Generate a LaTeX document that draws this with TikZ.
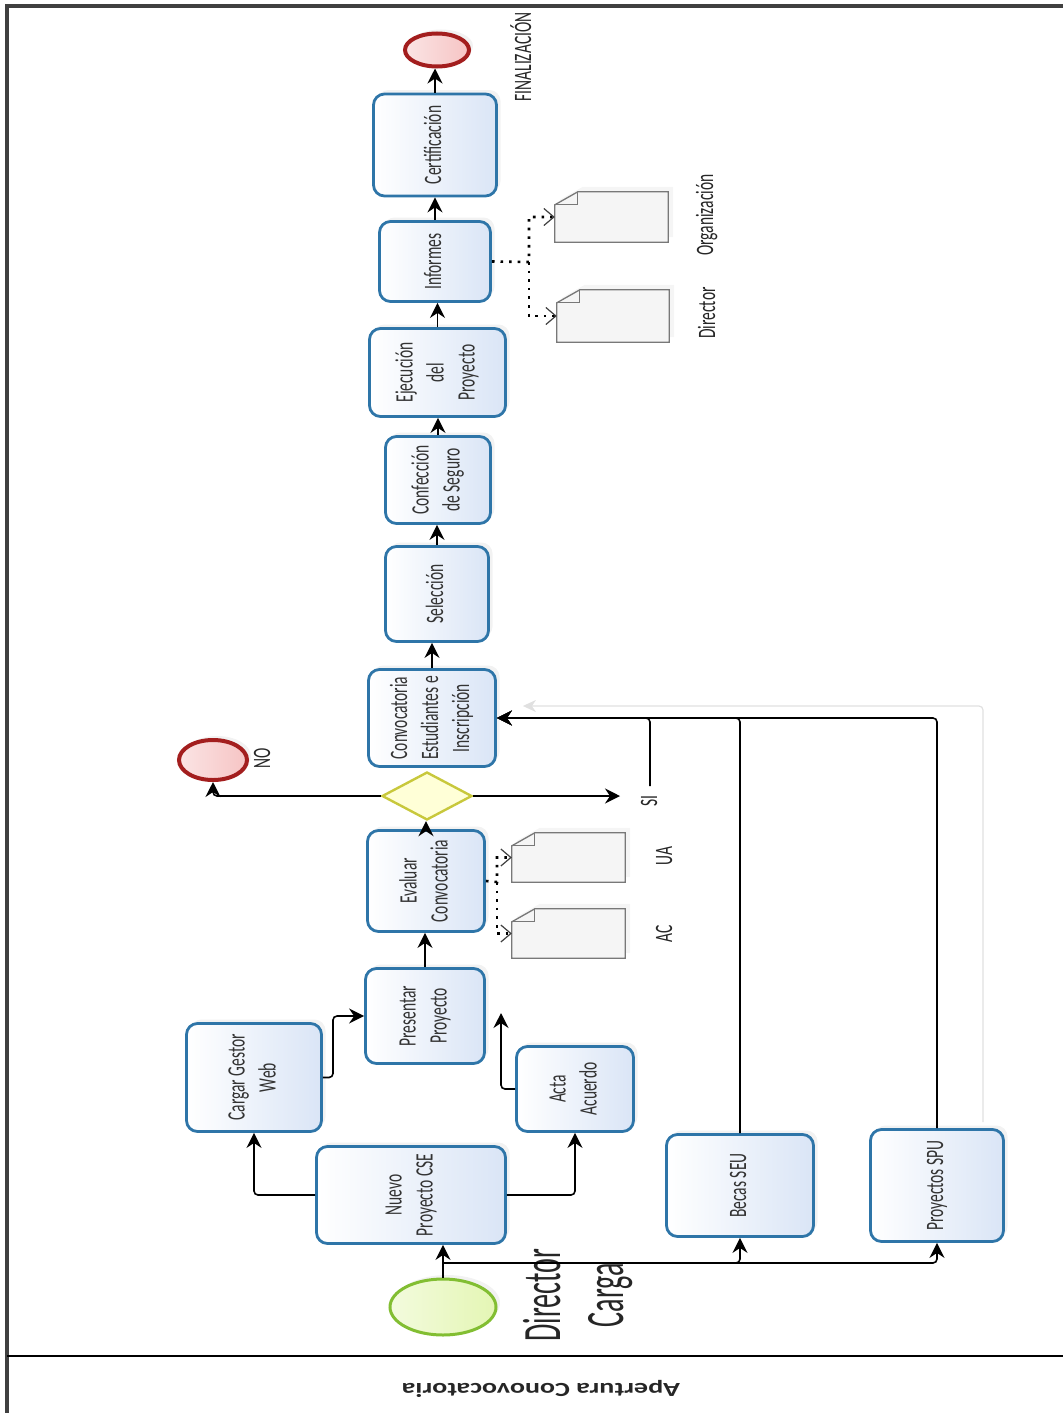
\documentclass[tikz,border=0pt]{standalone}
\usepackage{fontspec}
\setmainfont{Carlito}
\newfontfamily\tfont[FakeStretch=0.62]{Carlito}
\newfontfamily\bigfont[FakeStretch=0.52]{Carlito}
\newfontfamily\titlefont[FakeStretch=1.4]{Carlito}
\usetikzlibrary{arrows.meta,shapes.geometric,shadows,calc}
\newcommand{\rotlbl}[1]{\rotatebox{90}{\begin{tabular}{@{}c@{}}#1\end{tabular}}}
\definecolor{taskborder}{RGB}{46,117,168}
\definecolor{taskfill}{RGB}{218,229,246}
\definecolor{endborder}{RGB}{163,30,30}
\definecolor{endfill}{RGB}{246,196,196}
\definecolor{startborder}{RGB}{130,190,50}
\definecolor{startfill}{RGB}{228,246,180}
\definecolor{gwborder}{RGB}{200,200,60}
\definecolor{gwfill}{RGB}{255,255,215}
\definecolor{docborder}{RGB}{120,120,120}
\tikzset{
  task/.style={rectangle, rounded corners=11pt, draw=taskborder, line width=2.8pt,
    left color=white, right color=taskfill, inner sep=0pt,
    font=\tfont\fontsize{25}{31}\selectfont, text=black!80,
    drop shadow={shadow xshift=4pt, shadow yshift=4pt, fill=black!10}},
  endev/.style={ellipse, draw=endborder, line width=4pt, inner sep=0pt,
    left color=endfill!45!white, right color=endfill,
    drop shadow={shadow xshift=4pt, shadow yshift=4pt, fill=black!10}},
  startev/.style={ellipse, draw=startborder, line width=3pt, inner sep=0pt,
    left color=startfill!45!white, right color=startfill,
    drop shadow={shadow xshift=4pt, shadow yshift=4pt, fill=black!10}},
  gateway/.style={diamond, draw=gwborder, line width=2.4pt, fill=gwfill, inner sep=0pt},
  doc/.style={rectangle, inner sep=0pt, draw=none},
  docline/.style={draw=docborder, line width=1.3pt, fill=black!4,
    drop shadow={shadow xshift=5pt, shadow yshift=5pt, fill=black!8}},
  foldline/.style={draw=docborder, line width=1.1pt},
  lbl/.style={font=\tfont\fontsize{25}{31}\selectfont, inner sep=0pt, text=black!85},
  flow/.style={line width=1.6pt, draw=black, rounded corners=4pt,
    -{Stealth[length=15pt,width=15pt,inset=5pt]}},
  ghost/.style={line width=1.2pt, draw=black!12, rounded corners=4pt,
    -{Stealth[length=13pt,width=12pt,inset=4pt]}},
  assoc/.style={line width=2.6pt, dash pattern=on 2.6pt off 6pt,
    -{Straight Barb[length=10pt,width=17pt,line width=1.2pt,black!75]}},
}
\newcommand{\docshape}[1]{%
  \filldraw[docline] ([xshift=23pt]#1.north west) -- (#1.north east) -- (#1.south east)
    -- (#1.south west) -- ([yshift=-13pt]#1.north west) -- cycle;
  \draw[foldline] ([xshift=23pt]#1.north west) -- ([xshift=23pt,yshift=-13pt]#1.north west)
    -- ([yshift=-13pt]#1.north west);}
\begin{document}
\begin{tikzpicture}[x=1pt,y=-1pt]
\useasboundingbox (0,0) rectangle (1063,1413);
% frame
\draw[line width=3.5pt, black!75] (7,1413) -- (7,6) -- (1063,6);
\draw[line width=2pt, black] (7,1356) -- (1063,1356);
\node[font=\titlefont\bfseries\fontsize{20}{24}\selectfont, rotate=180, text=black!85] (title) at (541,1389) {Apertura Conovocatoria};

% events
\node[endev, minimum width=64pt, minimum height=33pt] (fin) at (437,50) {};
\node[endev, minimum width=68pt, minimum height=40pt] (noend) at (213,760) {};
\node[startev, minimum width=106pt, minimum height=56pt] (start) at (443,1307) {};
\node[gateway, minimum width=90pt, minimum height=48pt] (gw) at (427,796) {};

% tasks
\node[task, minimum width=123pt, minimum height=102pt] (cert) at (435,145) {\rotlbl{Certificación}};
\node[task, minimum width=111pt, minimum height=80pt] (inf) at (435,261.5) {\rotlbl{Informes}};
\node[task, minimum width=136pt, minimum height=88pt] (ejec) at (437.5,372.5) {\rotlbl{Ejecución\\del\\Proyecto}};
\node[task, minimum width=105pt, minimum height=87pt] (conf) at (438,480) {\rotlbl{Confección\\de Seguro}};
\node[task, minimum width=103pt, minimum height=95pt] (sel) at (437,594) {\rotlbl{Selección}};
\node[task, minimum width=127pt, minimum height=97pt] (conv) at (432,718) {\rotlbl{Convocatoria\\Estudiantes e\\Inscripción}};
\node[task, minimum width=117pt, minimum height=101pt] (eval) at (426,881) {\rotlbl{Evaluar\\Convocatoria}};
\node[task, minimum width=119pt, minimum height=95pt] (pres) at (425,1016) {\rotlbl{Presentar\\Proyecto}};
\node[task, minimum width=135pt, minimum height=108pt] (carg) at (254,1077.5) {\rotlbl{Cargar Gestor\\Web}};
\node[task, minimum width=117pt, minimum height=85pt] (acta) at (575,1089) {\rotlbl{Acta\\Acuerdo}};
\node[task, minimum width=189pt, minimum height=97pt] (nuevo) at (411,1195) {\rotlbl{Nuevo\\Proyecto CSE}};
\node[task, minimum width=147pt, minimum height=102pt] (becas) at (740,1185.5) {\rotlbl{Becas SEU}};
\node[task, minimum width=133pt, minimum height=112pt] (spu) at (937,1185.5) {\rotlbl{Proyectos SPU}};

% data objects
\node[doc, minimum width=113pt, minimum height=50pt] (orgdoc) at (611.5,217) {};
\node[doc, minimum width=112pt, minimum height=52pt] (dirdoc) at (613,316) {};
\node[doc, minimum width=113pt, minimum height=49pt] (uadoc) at (568.5,857.5) {};
\node[doc, minimum width=113pt, minimum height=49pt] (acdoc) at (568.5,933.5) {};
\docshape{orgdoc}
\docshape{dirdoc}
\docshape{uadoc}
\docshape{acdoc}

% labels
\node[lbl] (finlbl) at (525,57) {\rotlbl{FINALIZACIÓN}};
\node[lbl] (nolbl) at (264,758) {\rotlbl{NO}};
\node[lbl] (si) at (651,801) {\rotlbl{SI}};
\node[lbl] (ualbl) at (666,856) {\rotlbl{UA}};
\node[lbl] (aclbl) at (666,934) {\rotlbl{AC}};
\node[lbl] (orglbl) at (707,215) {\rotlbl{Organización}};
\node[lbl] (dirlbl) at (709,313) {\rotlbl{Director}};
\node[font=\bigfont\fontsize{54}{63}\selectfont, inner sep=0pt, text=black!85] (dc) at (579,1295) {\rotlbl{Director\\Carga}};

% coordinates
\coordinate (sj) at (443,1263);
\coordinate (cp) at (333,1077.5);
\coordinate (ap) at (501,1013);
\coordinate (siend) at (620,796);
\coordinate (sitop) at (650,786);
\coordinate (ij) at (529,262);
\coordinate (ej) at (497,882);
\coordinate (gh) at (983,1122);

% ghost line
\draw[ghost] (gh) |- ([xshift=26pt,yshift=12pt]conv.east);

% flows
\draw[flow] (start.north) -- (start.north |- nuevo.south);
\draw[flow] (sj) -| (becas.south);
\draw[flow] (sj) -| (spu.south);
\draw[flow] (nuevo.west) -| (carg.south);
\draw[flow] (nuevo.east) -| (acta.south);
\draw[flow] (carg.east) -- (cp) |- (pres.west);
\draw[flow] (acta.west) -| (ap);
\draw[flow] (pres.north) -- (pres.north |- eval.south);
\draw[flow] (eval.north) -- (eval.north |- gw.south);
\draw[flow] (gw.west) -| (noend.south);
\draw[flow] (gw.east) -- (siend);
\draw[flow] (becas.north) |- (conv.east);
\draw[flow] (spu.north) |- (conv.east);
\draw[flow] (sitop) |- (conv.east);
\draw[flow] (conv.north) -- (conv.north |- sel.south);
\draw[flow] (sel.north) -- (sel.north |- conf.south);
\draw[flow] (conf.north) -- (conf.north |- ejec.south);
\draw[flow] (ejec.north) -- (ejec.north |- inf.south);
\draw[flow] (inf.north) -- (inf.north |- cert.south);
\draw[flow] (cert.north) -- (cert.north |- fin.south);

% associations
\draw[assoc] (inf.east) -- (ij) |- (orgdoc.west);
\draw[assoc] (ij) |- (dirdoc.west);
\draw[assoc] (eval.east) -- (ej) |- (uadoc.west);
\draw[assoc] (ej) |- (acdoc.west);
\end{tikzpicture}
\end{document}
